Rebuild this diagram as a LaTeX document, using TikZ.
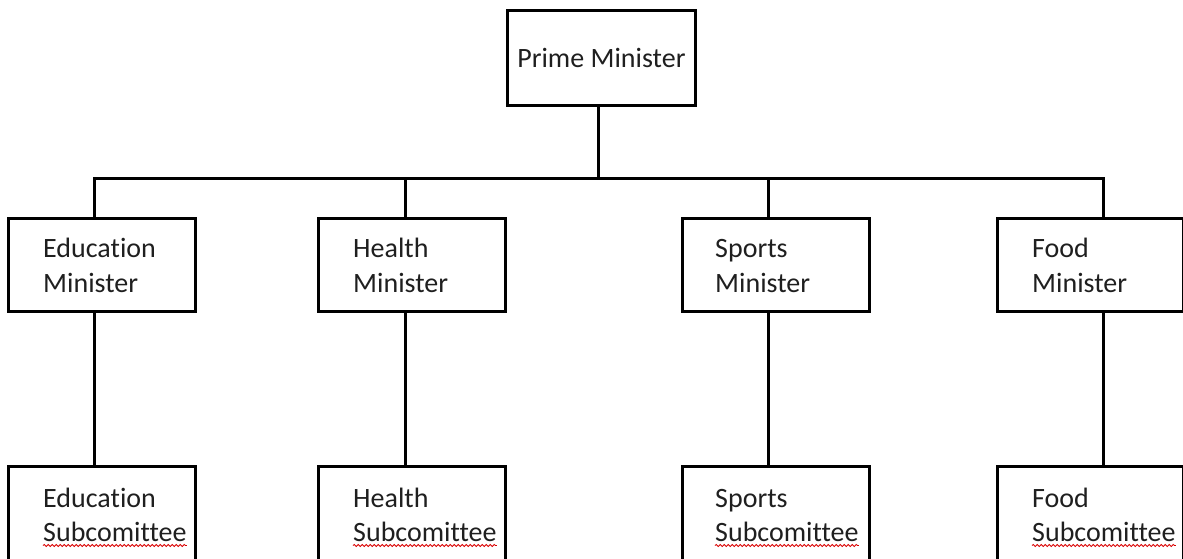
\documentclass[tikz,border=0pt]{standalone}
\usepackage{fontspec}
\setmainfont{Carlito}[Ligatures=NoCommon]
\usetikzlibrary{decorations.pathmorphing}
\begin{document}
\begin{tikzpicture}[x=1pt,y=-1pt,
  box/.style={draw,line width=2.8pt,minimum width=187pt,minimum height=93pt,anchor=north west,inner sep=0pt},
  subbox/.style={box,minimum height=140pt},
  lbl/.style={anchor=base west,inner sep=0pt,font=\fontsize{28}{34}\selectfont,text=black!88},
  conn/.style={line width=3pt},
  spell/.style={red!85!black,line width=0.8pt,decorate,decoration={snake,amplitude=1.1pt,segment length=4pt}}]
\useasboundingbox (0,0) rectangle (1183,558);
\clip (0,0) rectangle (1183,558);
% top
\node[box,minimum width=188pt,minimum height=95pt,font=\fontsize{28}{34}\selectfont,text=black!88] (pm) at (506,9) {Prime Minister};
% ministers
\node[box] (em) at (7,217) {};
\node[box] (hm) at (317,217) {};
\node[box] (sm) at (681,217) {};
\node[box,minimum width=186pt] (fm) at (996,217) {};
\node[lbl] (em1) at (43,257) {Education};
\node[lbl] (em2) at (43,292) {Minister};
\node[lbl] (hm1) at (353,257) {Health};
\node[lbl] (hm2) at (353,292) {Minister};
\node[lbl] (sm1) at (715,257) {Sports};
\node[lbl] (sm2) at (715,292) {Minister};
\node[lbl] (fm1) at (1032,257) {Food};
\node[lbl] (fm2) at (1032,292) {Minister};
% subcommittees
\node[subbox] (es) at (7,465) {};
\node[subbox] (hs) at (317,465) {};
\node[subbox] (ss) at (681,465) {};
\node[subbox,minimum width=186pt] (fs) at (996,465) {};
\node[lbl] (es1) at (43,507) {Education};
\node[lbl] (es2) at (43,541) {Subcomittee};
\node[lbl] (hs1) at (353,507) {Health};
\node[lbl] (hs2) at (353,541) {Subcomittee};
\node[lbl] (ss1) at (715,507) {Sports};
\node[lbl] (ss2) at (715,541) {Subcomittee};
\node[lbl] (fs1) at (1032,507) {Food};
\node[lbl] (fs2) at (1032,541) {Subcomittee};
\foreach \n in {es2,hs2,ss2,fs2}
  \draw[spell] ([yshift=-4.5pt]\n.base west) -- ([yshift=-4.5pt]\n.base east);
% connectors
\coordinate (hub) at (598,178);
\coordinate (bl) at (94,178);
\coordinate (bh) at (405,178);
\coordinate (bs) at (768,178);
\coordinate (br) at (1103,178);
\draw[conn] (pm.south -| hub) -- (hub);
\draw[conn] (bl |- em.north) -- (bl) -- (br) -- (br |- fm.north);
\draw[conn] (bh) -- (bh |- hm.north);
\draw[conn] (bs) -- (bs |- sm.north);
\draw[conn] (em.south -| bl) -- (es.north -| bl);
\draw[conn] (hm.south -| bh) -- (hs.north -| bh);
\draw[conn] (sm.south -| bs) -- (ss.north -| bs);
\draw[conn] (fm.south -| br) -- (fs.north -| br);
\end{tikzpicture}
\end{document}
